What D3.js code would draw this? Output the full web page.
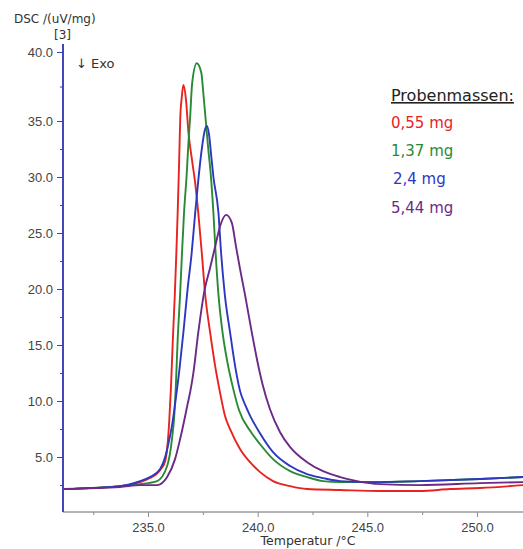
<!DOCTYPE html>
<html>
<head>
<meta charset="utf-8">
<script src="https://cdn.jsdelivr.net/npm/d3@7"></script>
<style>
  html, body { margin: 0; padding: 0; background: #fff; }
  svg { display: block; font-family: "DejaVu Sans", "Liberation Sans", Arial, sans-serif; }
</style>
</head>
<body>
<svg id="chart" width="523" height="549"></svg>
<script>
// DSC curves (temperature in °C, heat flow in uV/mg) for four sample masses
const red055 = [
  [231.12,2.14],[233.72,2.40],[234.64,2.76],[235.09,3.12],[235.55,3.83],[235.78,4.63],
  [235.91,6.59],[235.97,8.37],[236.04,11.04],[236.13,15.49],[236.22,19.51],[236.29,23.24],
  [236.35,26.80],[236.40,30.18],[236.43,32.41],[236.47,35.31],[236.54,36.76],[236.61,37.61],
  [236.73,36.52],[236.84,34.0],[236.99,31.7],[237.14,29.6],[237.29,26.80],[237.45,23.24],
  [237.60,19.60],[237.83,16.12],[238.06,13.12],[238.28,10.77],[238.51,8.66],[238.74,7.48],
  [239.20,5.70],[239.65,4.54],[240.11,3.65],[240.70,2.85],[241.48,2.40],[242.25,2.14],
  [243.76,2.05],[245.58,1.96],[247.40,1.96],[248.77,2.14],[250.14,2.23],[252.10,2.49]
];
const green137 = [
  [231.12,2.14],[233.72,2.40],[234.64,2.58],[235.41,2.85],[235.87,4.19],[236.09,6.59],
  [236.20,8.82],[236.26,11.04],[236.35,15.49],[236.46,19.50],[236.54,22.88],[236.64,26.80],
  [236.76,30.19],[236.84,33.04],[236.92,35.31],[237.01,37.73],[237.22,39.18],[237.43,38.48],
  [237.52,37.03],[237.64,34.82],[237.75,32.41],[237.86,30.19],[237.98,26.80],[238.08,23.24],
  [238.21,19.50],[238.38,16.38],[238.62,13.45],[238.89,11.04],[239.15,9.17],[239.70,7.21],
  [240.11,6.14],[240.70,4.81],[241.48,3.74],[242.25,3.21],[242.98,2.85],[243.76,2.76],
  [245.58,2.76],[247.40,2.85],[250.14,3.03],[252.10,3.21]
];
const blue24 = [
  [231.12,2.14],[233.72,2.40],[234.64,2.85],[235.09,3.21],[235.55,3.92],[235.78,4.99],
  [235.93,6.2],[236.09,7.8],[236.25,10.0],[236.43,12.8],[236.61,16.12],[236.80,19.95],
  [236.99,23.24],[237.14,26.6],[237.29,29.7],[237.45,32.5],[237.58,34.1],[237.68,34.55],
  [237.78,33.8],[237.88,31.9],[237.98,30.0],[238.21,26.80],[238.33,23.24],[238.50,19.50],
  [238.74,16.12],[238.97,13.12],[239.20,10.86],[239.42,9.7],[239.65,8.7],[240.11,7.1],
  [240.70,5.43],[241.48,4.19],[242.25,3.47],[242.98,3.12],[243.76,2.85],[245.26,2.76],
  [247.40,2.85],[250.14,3.03],[252.10,3.21]
];
const purple544 = [
  [231.12,2.14],[233.72,2.31],[234.64,2.49],[235.41,2.49],[235.87,3.21],[236.23,4.81],
  [236.46,6.59],[236.68,8.55],[236.80,9.7],[236.93,10.9],[237.07,12.56],[237.29,16.12],
  [237.58,19.95],[237.83,21.9],[238.06,23.80],[238.28,25.58],[238.56,26.62],[238.82,25.91],
  [239.01,23.80],[239.20,21.73],[239.42,19.50],[239.73,16.12],[240.03,13.12],[240.22,11.49],
  [240.56,9.26],[241.02,7.21],[241.48,5.88],[242.25,4.54],[242.98,3.74],[243.76,3.21],
  [244.53,2.85],[245.58,2.58],[247.40,2.49],[250.14,2.67],[252.10,2.76]
];

const seriesLabels = ["0,55 mg", "1,37 mg", "2,4 mg", "5,44 mg"];
const seriesColors = ["#e8231f", "#2a8a34", "#2d37c0", "#6c2a86"];
const seriesData = [red055, green137, blue24, purple544];

const xMajorTicks = [235, 240, 245, 250];
const xMinorTicks = [232.5, 237.5, 242.5, 247.5];
const yMajorTicks = [5, 10, 15, 20, 25, 30, 35, 40];
const yMinorTicks = [2.5, 7.5, 12.5, 17.5, 22.5, 27.5, 32.5, 37.5];

const svg = d3.select("#chart");
const plotLeft = 63, plotRight = 523, plotBottom = 512, plotTop = 44;

const x = d3.scaleLinear().domain([231.12, 252.1]).range([plotLeft, plotRight]);
// the instrument's ordinate is stretched above 35
const y = d3.scaleLinear().domain([0, 35, 40]).range([513, 121, 52]);

svg.append("defs").append("clipPath").attr("id", "plot")
  .append("rect").attr("x", plotLeft + 1).attr("y", plotTop)
  .attr("width", plotRight - plotLeft).attr("height", plotBottom - plotTop);

// x axis
const gx = svg.append("g").attr("transform", `translate(0,${plotBottom})`);
gx.call(d3.axisBottom(x).tickValues(xMajorTicks).tickSize(5).tickSizeOuter(0).tickPadding(6).tickFormat(d3.format(".1f")));
gx.append("g").call(d3.axisBottom(x).tickValues(xMinorTicks).tickSize(3).tickSizeOuter(0).tickFormat(""));
gx.selectAll("path.domain").attr("stroke", "#9a9a9a").attr("d", `M${plotLeft},0H${plotRight}`);
gx.selectAll("line").attr("stroke", "#8a8a8a");
gx.selectAll("text").attr("fill", "#444").attr("font-size", 13);

// y axis
const gy = svg.append("g").attr("transform", `translate(${plotLeft},0)`);
gy.call(d3.axisLeft(y).tickValues(yMajorTicks).tickSize(6).tickSizeOuter(0).tickPadding(4).tickFormat(d3.format(".1f")));
gy.append("g").call(d3.axisLeft(y).tickValues(yMinorTicks).tickSize(3).tickSizeOuter(0).tickFormat(""));
gy.selectAll("path.domain").attr("stroke", "#3d3fb5").attr("stroke-width", 1.6).attr("d", `M0,${plotTop}V${plotBottom}`);
gy.selectAll("line").attr("stroke", "#3d3fb5");
gy.selectAll("text").attr("fill", "#444").attr("font-size", 13);

// curves
const line = d3.line().x(d => x(d[0])).y(d => y(d[1])).curve(d3.curveMonotoneX);
svg.append("g").attr("clip-path", "url(#plot)")
  .selectAll("path").data(seriesData).join("path")
  .attr("d", line).attr("fill", "none")
  .attr("stroke", (d, i) => seriesColors[i]).attr("stroke-width", 1.9)
  .attr("stroke-linejoin", "round");

// axis titles
svg.append("text").attr("x", 14).attr("y", 23).attr("font-size", 12).attr("fill", "#333").text("DSC /(uV/mg)");
svg.append("text").attr("x", 54).attr("y", 39).attr("font-size", 12).attr("fill", "#333").text("[3]");
svg.append("text").attr("x", 76).attr("y", 68).attr("font-size", 13).attr("fill", "#333").text("↓ Exo");
svg.append("text").attr("x", 308).attr("y", 545).attr("text-anchor", "middle")
  .attr("font-size", 12.5).attr("fill", "#333").text("Temperatur /°C");

// legend
svg.append("text").attr("x", 391).attr("y", 101).attr("font-size", 16).attr("fill", "#222")
  .attr("text-decoration", "underline").text("Probenmassen:");
const legendY = [128, 156, 184, 213];
svg.append("g").selectAll("text").data(seriesLabels).join("text")
  .attr("x", (d, i) => i === 2 ? 393 : 391).attr("y", (d, i) => legendY[i])
  .attr("font-size", 15).attr("fill", (d, i) => seriesColors[i]).text(d => d);
</script>
</body>
</html>
